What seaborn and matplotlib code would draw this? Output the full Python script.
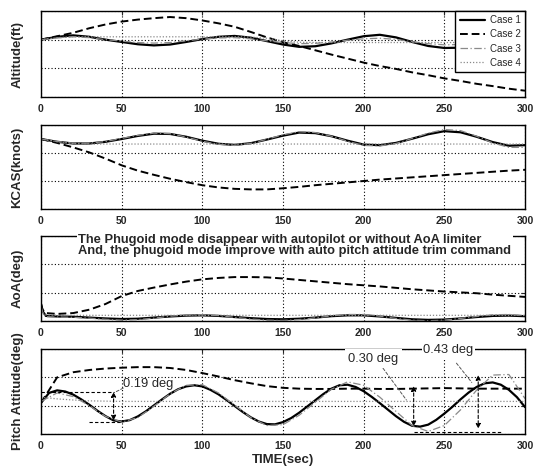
import matplotlib
matplotlib.use("Agg")
import matplotlib.pyplot as plt
import seaborn as sns
import pandas as pd

sns.set_style("white")
plt.rcParams["font.family"] = ["Liberation Sans", "DejaVu Sans"]

# ---------------- data ----------------
T10 = list(range(0, 301, 10))
T5 = list(range(0, 301, 5))
T_AOA = [0, 1, 3] + list(range(10, 301, 10))

cases = ["Case 1", "Case 2", "Case 3", "Case 4"]
xticks = [0, 50, 100, 150, 200, 250, 300]
ylabels = ["Altitude(ft)", "KCAS(knots)", "AoA(deg)", "Pitch Attitude(deg)"]

alt_case1 = [2.0, 2.1, 2.15, 2.1, 2.0, 1.92, 1.84, 1.8, 1.83, 1.92, 2.02, 2.1, 2.13, 2.07, 1.95, 1.83,
             1.75, 1.77, 1.87, 2.0, 2.12, 2.17, 2.08, 1.92, 1.78, 1.71, 1.72, 1.8, 1.9, 2.0, 2.08]
alt_case2 = [2.0, 2.12, 2.24, 2.4, 2.53, 2.63, 2.7, 2.75, 2.79, 2.75, 2.67, 2.57, 2.45, 2.27, 2.08, 1.91,
             1.78, 1.63, 1.48, 1.34, 1.2, 1.08, 0.98, 0.86, 0.76, 0.65, 0.56, 0.46, 0.38, 0.29, 0.22]
alt_case3 = [2.0, 2.06, 2.1, 2.07, 2.0, 1.95, 1.9, 1.88, 1.9, 1.96, 2.02, 2.06, 2.07, 2.03, 1.96, 1.9,
             1.86, 1.87, 1.92, 1.98, 2.03, 2.05, 2.01, 1.93, 1.86, 1.82, 1.83, 1.88, 1.95, 2.0, 2.02]
alt_case4 = [2.0, 2.07, 2.1, 2.1, 2.1, 2.1, 2.1, 2.1, 2.1, 2.1, 2.1, 2.1, 2.1, 2.09, 2.05, 1.96,
             1.91, 1.9, 1.9, 1.9, 1.9, 1.9, 1.9, 1.9, 1.9, 1.9, 1.9, 1.9, 1.9, 1.9, 1.9]

kcas_case1 = [2.5, 2.4, 2.34, 2.34, 2.4, 2.5, 2.61, 2.69, 2.68, 2.58, 2.44, 2.33, 2.29, 2.35, 2.48, 2.62,
              2.73, 2.71, 2.6, 2.44, 2.3, 2.28, 2.36, 2.51, 2.67, 2.78, 2.74, 2.58, 2.39, 2.26, 2.28]
kcas_case2 = [2.5, 2.36, 2.2, 2.02, 1.8, 1.56, 1.37, 1.22, 1.08, 0.96, 0.85, 0.77, 0.72, 0.7, 0.7, 0.74,
              0.79, 0.85, 0.9, 0.95, 1.0, 1.05, 1.09, 1.13, 1.17, 1.21, 1.25, 1.29, 1.33, 1.37, 1.4]
kcas_case3 = [2.5, 2.41, 2.35, 2.35, 2.41, 2.52, 2.63, 2.71, 2.69, 2.57, 2.42, 2.31, 2.27, 2.34, 2.49, 2.65,
              2.76, 2.73, 2.6, 2.42, 2.27, 2.25, 2.34, 2.52, 2.71, 2.84, 2.8, 2.6, 2.36, 2.2, 2.2]
kcas_case4 = [2.5, 2.4, 2.34, 2.32, 2.32, 2.32, 2.32, 2.32, 2.32, 2.32, 2.32, 2.32, 2.32, 2.32, 2.32, 2.32,
              2.32, 2.32, 2.32, 2.32, 2.32, 2.32, 2.32, 2.32, 2.32, 2.32, 2.32, 2.32, 2.32, 2.32, 2.32]

aoa_case1 = [0.6, 0.35, 0.18, 0.16, 0.15, 0.12, 0.09, 0.07, 0.08, 0.12, 0.16, 0.19, 0.2, 0.18, 0.14, 0.1, 0.07,
             0.06, 0.08, 0.12, 0.17, 0.2, 0.2, 0.16, 0.11, 0.06, 0.04, 0.05, 0.09, 0.14, 0.18, 0.19, 0.17]
aoa_case2 = [0.6, 0.4, 0.28, 0.25, 0.28, 0.4, 0.6, 0.88, 1.06, 1.18, 1.29, 1.39, 1.47, 1.52, 1.55, 1.55, 1.54,
             1.5, 1.45, 1.4, 1.35, 1.3, 1.26, 1.22, 1.17, 1.12, 1.08, 1.04, 1.01, 0.98, 0.93, 0.89, 0.85]
aoa_case3 = [0.55, 0.3, 0.15, 0.14, 0.13, 0.1, 0.06, 0.03, 0.05, 0.1, 0.17, 0.21, 0.22, 0.19, 0.13, 0.07, 0.03,
             0.02, 0.05, 0.11, 0.18, 0.23, 0.23, 0.17, 0.09, 0.03, 0.01, 0.03, 0.09, 0.16, 0.22, 0.23, 0.19]
aoa_case4 = [0.5, 0.3, 0.22, 0.2, 0.2, 0.2, 0.2, 0.2, 0.2, 0.2, 0.2, 0.2, 0.2, 0.2, 0.2, 0.2, 0.2,
             0.2, 0.2, 0.2, 0.2, 0.2, 0.2, 0.2, 0.2, 0.2, 0.2, 0.2, 0.2, 0.2, 0.2, 0.2, 0.2]

pitch_case1 = [1.10, 1.45, 1.54, 1.50, 1.39, 1.22, 1.03, 0.82, 0.63, 0.48, 0.44, 0.49, 0.62, 0.80, 1.01, 1.22,
               1.42, 1.58, 1.68, 1.72, 1.68, 1.56, 1.40, 1.20, 0.99, 0.78, 0.59, 0.44, 0.35, 0.34, 0.42,
               0.56, 0.75, 0.97, 1.19, 1.41, 1.60, 1.72, 1.74, 1.66, 1.51, 1.31, 1.09, 0.86, 0.63, 0.43,
               0.29, 0.26, 0.33, 0.50, 0.72, 0.96, 1.22, 1.46, 1.66, 1.79, 1.82, 1.74, 1.56, 1.30, 0.95]
pitch_case2 = [1.1, 2.0, 2.18, 2.26, 2.31, 2.34, 2.36, 2.36, 2.33, 2.26, 2.15, 2.03, 1.9, 1.79, 1.69, 1.63,
               1.6, 1.59, 1.59, 1.6, 1.6, 1.59, 1.59, 1.6, 1.61, 1.62, 1.61, 1.6, 1.6, 1.6, 1.6]
pitch_case3 = [1.15, 1.45, 1.32, 1.0, 0.62, 0.42, 0.58, 0.98, 1.42, 1.72, 1.74, 1.45, 1.02, 0.58, 0.3, 0.33,
               0.66, 1.12, 1.58, 1.84, 1.72, 1.3, 0.8, 0.3, 0.09, 0.3, 0.85, 1.55, 2.08, 2.1, 1.25]
pitch_case4 = [1.3, 1.24, 1.2, 1.17, 1.16, 1.15, 1.15, 1.15, 1.15, 1.15, 1.15, 1.15, 1.15, 1.15, 1.15, 1.15,
               1.15, 1.15, 1.15, 1.15, 1.15, 1.15, 1.15, 1.15, 1.15, 1.15, 1.15, 1.15, 1.15, 1.15, 1.15]

note_text = ("The Phugoid mode disappear with autopilot or without AoA limiter\n"
             "And, the phugoid mode improve with auto pitch attitude trim command")

# ---------------- styles ----------------
styles = {
    "Case 1": dict(color="black", linestyle="-", linewidth=1.6),
    "Case 2": dict(color="black", linestyle=(0, (4, 2)), linewidth=1.4),
    "Case 3": dict(color="#8a8a8a", linestyle=(0, (6, 2, 1, 2)), linewidth=0.9),
    "Case 4": dict(color="#8a8a8a", linestyle=(0, (1, 1.5)), linewidth=0.9),
}

panels = [
    [(T10, alt_case1), (T10, alt_case2), (T10, alt_case3), (T10, alt_case4)],
    [(T10, kcas_case1), (T10, kcas_case2), (T10, kcas_case3), (T10, kcas_case4)],
    [(T_AOA, aoa_case1), (T_AOA, aoa_case2), (T_AOA, aoa_case3), (T_AOA, aoa_case4)],
    [(T5, pitch_case1), (T10, pitch_case2), (T10, pitch_case3), (T10, pitch_case4)],
]

fig = plt.figure(figsize=(5.35, 4.68), dpi=100)
L, W = 41 / 535, 484 / 535
rects = [(11, 97), (125, 209), (236, 321), (349, 434)]
axes = []
for top, bot in rects:
    axes.append(fig.add_axes([L, (468 - bot) / 468, W, (bot - top) / 468]))

for i, ax in enumerate(axes):
    for name, (tt, vals) in zip(cases, panels[i]):
        df = pd.DataFrame({"t": tt, "v": vals})
        sns.lineplot(data=df, x="t", y="v", ax=ax, estimator=None, sort=False,
                     label=name if i == 0 else None, legend=False, **styles[name])
    ax.set_xlim(0, 300)
    ax.set_ylim(0, 3)
    ax.set_xticks(xticks)
    ax.set_xticklabels([str(x) for x in xticks], fontsize=7.5, fontweight="bold")
    ax.set_yticks([0, 1, 2, 3])
    ax.set_yticklabels([])
    ax.grid(True, color="black", linestyle=(0, (1, 2)), linewidth=0.8)
    ax.tick_params(axis="x", direction="in", length=3, pad=5, top=True)
    ax.tick_params(axis="y", direction="in", length=3, right=True)
    for s in ax.spines.values():
        s.set_visible(True)
        s.set_color("black")
        s.set_linewidth(1.0)
    ax.set_xlabel("")
    ax.set_ylabel(ylabels[i], fontsize=9.5, fontweight="bold")
    ax.yaxis.set_label_coords(-0.036, 0.5)

axes[3].set_xlabel("TIME(sec)", fontsize=9.5, fontweight="bold", labelpad=2)

leg = axes[0].legend(loc="upper right", frameon=True, fancybox=False,
                     edgecolor="black", framealpha=1, borderaxespad=0.0,
                     handlelength=2.6, handletextpad=0.5, labelspacing=0.42, borderpad=0.45,
                     prop=dict(size=7))
leg.get_frame().set_linewidth(1.0)

# AoA note
axes[2].text(23, 3.08, note_text, fontsize=9.3, fontweight="bold", ha="left", va="top",
             linespacing=0.95, zorder=5,
             bbox=dict(facecolor="white", edgecolor="none", pad=1.0), clip_on=False)

# Pitch annotations
ap = axes[3]
arrow_kw = dict(arrowstyle="<|-|>", color="black", linewidth=0.8, linestyle=(0, (3, 2)),
                mutation_scale=7, shrinkA=0, shrinkB=0)
lead_kw = dict(arrowstyle="-", color="#555555", linewidth=0.7, linestyle=(0, (3, 2)),
               shrinkA=0, shrinkB=0)
# 0.19 deg
ap.annotate("", xy=(45, 0.48), xytext=(45, 1.48), arrowprops=arrow_kw)
ap.plot([0, 45], [1.5, 1.5], color="black", linewidth=0.8, linestyle=(0, (3, 2)))
ap.plot([30, 50], [0.43, 0.43], color="black", linewidth=0.8, linestyle=(0, (3, 2)))
ap.annotate("", xy=(45, 1.45), xytext=(51, 1.62), arrowprops=lead_kw)
ap.text(51, 1.78, "0.19 deg", fontsize=9.3, ha="left", va="center")
# 0.30 deg
ap.annotate("", xy=(231, 0.27), xytext=(231, 1.69), arrowprops=arrow_kw)
ap.annotate("", xy=(226.5, 1.2), xytext=(212, 2.32), arrowprops=lead_kw)
ap.text(190.5, 2.66, "0.30 deg", fontsize=9.3, ha="left", va="center", zorder=5,
        bbox=dict(facecolor="white", edgecolor="none", pad=2.5))
# 0.43 deg
ap.annotate("", xy=(271, 0.19), xytext=(271, 2.08), arrowprops=arrow_kw)
ap.plot([231, 286], [0.08, 0.08], color="black", linewidth=0.8, linestyle=(0, (3, 2)))
ap.annotate("", xy=(267, 1.82), xytext=(257.5, 2.5), arrowprops=lead_kw)
ap.text(237, 2.95, "0.43 deg", fontsize=9.3, ha="left", va="center", zorder=5, clip_on=False,
        bbox=dict(facecolor="white", edgecolor="none", pad=1.0))

fig.savefig("out.png", dpi=100)
